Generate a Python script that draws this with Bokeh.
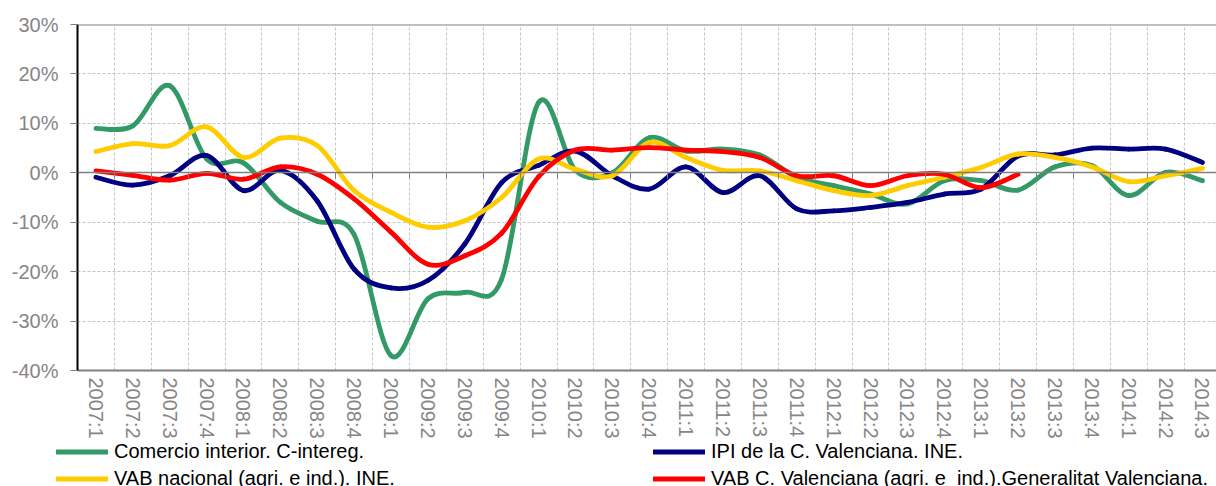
from bokeh.plotting import figure
from bokeh.layouts import column
from bokeh.models import Range1d, FixedTicker, LinearAxis, Span, Legend, LegendItem, ColumnDataSource
from bokeh.embed import file_html
from bokeh.resources import INLINE

# ---------------- data ----------------
categories = ["2007:1", "2007:2", "2007:3", "2007:4", "2008:1", "2008:2", "2008:3", "2008:4",
              "2009:1", "2009:2", "2009:3", "2009:4", "2010:1", "2010:2", "2010:3", "2010:4",
              "2011:1", "2011:2", "2011:3", "2011:4", "2012:1", "2012:2", "2012:3", "2012:4",
              "2013:1", "2013:2", "2013:3", "2013:4", "2014:1", "2014:2", "2014:3"]

comercio = [9.0, 9.5, 17.6, 2.8, 2.0, -6.0, -9.8, -12.5, -37.0, -25.5, -24.2, -21.5, 14.2, 0.5,
            0.0, 7.1, 4.4, 4.8, 3.6, -0.9, -2.6, -4.3, -6.3, -1.6, -1.6, -3.5, 1.2, 1.5, -4.6,
            0.1, -1.6]
ipi = [-0.9, -2.5, -0.6, 3.5, -3.6, 0.5, -5.7, -19.5, -23.3, -21.8, -14.4, -2.0, 1.5, 4.4,
       -0.6, -3.3, 1.2, -4.0, -0.6, -7.3, -7.7, -7.0, -6.0, -4.3, -3.3, 3.4, 3.6, 5.0, 4.8,
       4.8, 2.1]
vab_nacional = [4.3, 5.9, 5.5, 9.3, 3.1, 7.0, 5.5, -3.6, -8.0, -11.0, -9.7, -5.0, 2.8, 0.7,
                -0.6, 6.1, 3.1, 0.5, 0.4, -1.6, -3.6, -4.6, -2.6, -0.9, 1.1, 3.8, 3.1, 1.2,
                -1.8, -0.6, 0.9]
vab_cv = [0.4, -0.5, -1.5, -0.1, -1.3, 1.2, -0.3, -5.3, -12.0, -18.5, -16.8, -12.2, -0.8, 4.6,
          4.6, 5.1, 4.6, 4.3, 3.1, -0.6, -0.6, -2.6, -0.6, -0.3, -3.0, -0.3]

series_names = ["Comercio interior. C-intereg.",
                "IPI de la C. Valenciana. INE.",
                "VAB nacional (agri. e ind.). INE.",
                "VAB C. Valenciana (agri. e  ind.).Generalitat Valenciana."]
series_colors = ["#339966", "#000080", "#FFCC00", "#FF0000"]

y_ticks = [-40, -30, -20, -10, 0, 10, 20, 30]
y_tick_labels = ["-40%", "-30%", "-20%", "-10%", "0%", "10%", "20%", "30%"]

# ---------------- helpers ----------------
def smooth_segments(values):
    """Cubic Bezier segments through the data points (Excel-like smoothed line)."""
    n = len(values)
    xs = list(range(n))
    d = dict(x0=[], y0=[], x1=[], y1=[], cx0=[], cy0=[], cx1=[], cy1=[])
    for i in range(n - 1):
        a = max(i - 1, 0)
        b = min(i + 2, n - 1)
        d["x0"].append(xs[i]); d["y0"].append(values[i])
        d["x1"].append(xs[i + 1]); d["y1"].append(values[i + 1])
        d["cx0"].append(xs[i] + (xs[i + 1] - xs[a]) / 6.0)
        d["cy0"].append(values[i] + (values[i + 1] - values[a]) / 6.0)
        d["cx1"].append(xs[i + 1] - (xs[b] - xs[i]) / 6.0)
        d["cy1"].append(values[i + 1] - (values[b] - values[i]) / 6.0)
    return ColumnDataSource(d)

FONT = "Liberation Sans"
GRAY = "#868686"
LW = 4.8
all_series = [comercio, ipi, vab_nacional, vab_cv]

# ---------------- main chart ----------------
p = figure(width=1216, height=441,
           x_range=Range1d(-0.5, 30.38), y_range=Range1d(-40, 30),
           output_backend="svg", toolbar_location=None,
           min_border_left=77, min_border_top=24, min_border_right=0, min_border_bottom=71)
p.outline_line_color = None
p.background_fill_color = "white"
p.border_fill_color = "white"

boundaries = [i + 0.5 for i in range(len(categories))]

xa = p.xaxis[0]
xa.ticker = FixedTicker(ticks=list(range(len(categories))))
xa.major_label_overrides = {i: c for i, c in enumerate(categories)}
xa.major_label_orientation = "vertical"
xa.major_label_text_font = FONT
xa.major_label_text_font_size = "20px"
xa.major_label_text_color = GRAY
xa.major_label_standoff = 7
xa.major_tick_line_color = None
xa.major_tick_out = 0
xa.major_tick_in = 0
xa.minor_tick_line_color = None
xa.axis_line_color = "#808080"
xa.axis_line_width = 2

ya = p.yaxis[0]
ya.ticker = FixedTicker(ticks=y_ticks)
ya.major_label_overrides = {t: l for t, l in zip(y_ticks, y_tick_labels)}
ya.major_label_text_font = FONT
ya.major_label_text_font_size = "20px"
ya.major_label_text_color = GRAY
ya.major_label_standoff = 12
ya.major_tick_out = 7
ya.major_tick_in = 0
ya.major_tick_line_color = "#808080"
ya.minor_tick_line_color = None
ya.axis_line_color = "black"
ya.axis_line_width = 2

p.xgrid.ticker = FixedTicker(ticks=boundaries)
p.xgrid.grid_line_color = "#c4c4c4"
p.xgrid.grid_line_dash = "3 2"
p.ygrid.ticker = FixedTicker(ticks=y_ticks)
p.ygrid.grid_line_color = "#c4c4c4"
p.ygrid.grid_line_dash = "3 2"

# category axis crossing at 0 (Excel style): line + tick marks, no labels
zero_axis = LinearAxis(fixed_location=0, ticker=FixedTicker(ticks=boundaries),
                       major_label_overrides={b: "" for b in boundaries},
                       major_label_standoff=0, axis_line_color="#808080",
                       axis_line_width=1.5, major_tick_in=6, major_tick_out=0,
                       major_tick_line_color="#808080", minor_tick_line_color=None)
p.add_layout(zero_axis, "above")

p.add_layout(Span(location=30, dimension="width", line_color="#808080", line_width=2))

for vals, col in zip(all_series, series_colors):
    src = smooth_segments(vals)
    p.bezier(x0="x0", y0="y0", x1="x1", y1="y1", cx0="cx0", cy0="cy0", cx1="cx1", cy1="cy1",
             source=src, line_color=col, line_width=LW, line_cap="round", line_join="round")

# ---------------- legend strip ----------------
try:
    pl_frame_align = dict(frame_align=False)
    figure(**pl_frame_align)
    legend_left, strip_border = 56, 0
except Exception:
    pl_frame_align = {}
    legend_left, strip_border = -21, 77

pl = figure(width=1216, height=45, x_range=Range1d(-0.5, 30.38), y_range=Range1d(-40, 30),
            output_backend="svg", toolbar_location=None,
            x_axis_location=None, y_axis_location=None,
            min_border_left=strip_border, min_border_right=0, min_border_top=0,
            min_border_bottom=0, **pl_frame_align)
pl.grid.visible = False
pl.outline_line_color = None
pl.background_fill_color = "white"
pl.border_fill_color = "white"

items = []
for name, vals, col in zip(series_names, all_series, series_colors):
    # hidden proxy of the series, only used to draw its legend sample
    r = pl.line(x=list(range(len(vals))), y=vals, line_color=col, line_width=LW,
                line_cap="round", visible=False)
    items.append(LegendItem(label=name, renderers=[r]))

legend = Legend(items=items, location=(legend_left, -5.5), orientation="horizontal", ncols=2,
                glyph_width=52, glyph_height=27, label_height=27, label_width=539,
                label_standoff=6, spacing=0, padding=0, margin=0,
                border_line_color=None, background_fill_alpha=0,
                label_text_font=FONT, label_text_font_size="20px", label_text_color="black")
pl.add_layout(legend)

layout = column(p, pl, spacing=0)
open("out.html", "w").write(file_html(layout, INLINE))
